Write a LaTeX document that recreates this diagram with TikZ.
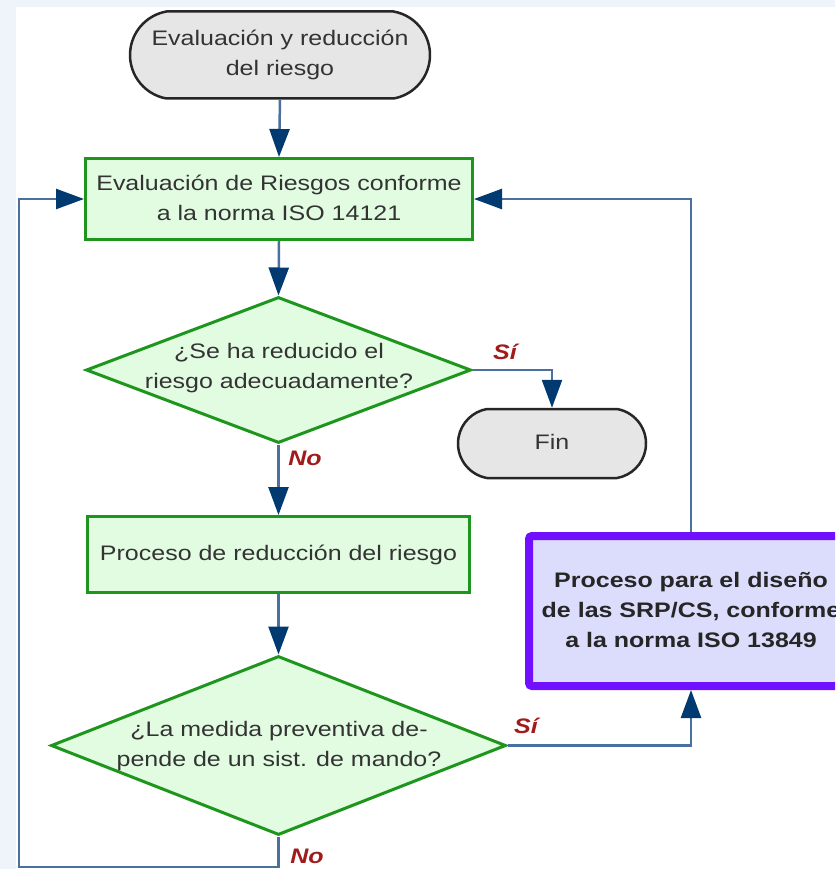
\documentclass[tikz,border=0pt]{standalone}
\usepackage{fontspec}
\usepackage{graphicx}
\setmainfont{Liberation Sans}
\usetikzlibrary{shapes.geometric,shapes.misc,arrows.meta}
\definecolor{bgblue}{HTML}{EEF4F9}
\definecolor{linecol}{HTML}{4A70A0}
\definecolor{tipcol}{HTML}{003A70}
\definecolor{greenfill}{HTML}{E2FCE2}
\definecolor{greenline}{HTML}{1E961E}
\definecolor{grayfill}{HTML}{E6E6E6}
\definecolor{purpleline}{HTML}{7010FF}
\definecolor{purplefill}{HTML}{DCDCFC}
\definecolor{labred}{HTML}{A01C1C}
\definecolor{txtcol}{HTML}{333333}
\newcommand\tx[1]{\scalebox{1.19}[1]{\begin{tabular}{@{}c@{}}#1\end{tabular}}}
\begin{document}
\begin{tikzpicture}[x=1pt,y=-1pt,
  every node/.style={font=\fontsize{21}{30}\selectfont, text=txtcol, inner sep=0pt},
  term/.style={rounded rectangle, rounded rectangle arc length=160, draw=black!85, line width=2.5pt, fill=grayfill},
  procbox/.style={rectangle, draw=greenline, line width=3pt, fill=greenfill},
  decision/.style={diamond, draw=greenline, line width=3pt, fill=greenfill},
  srpbox/.style={rectangle, rounded corners=3pt, draw=purpleline, line width=8pt, fill=purplefill},
  conn/.style={draw=linecol, line width=2.5pt, -{Triangle[length=28pt,width=20pt,color=tipcol]}},
  yesno/.style={font=\fontsize{21}{25}\selectfont\bfseries\itshape, text=labred}
]
\useasboundingbox (0,0) rectangle (835,869);
\clip (0,0) rectangle (835,869);
\fill[bgblue] (0,0) rectangle (835,869);
\fill[white] (16,7) rectangle (835,869);

% shapes
\node[term, minimum width=300pt, minimum height=87pt] (start) at (280,55) {};
\node (starttext) at (start.center) {\tx{Evaluación y reducción\\del riesgo}};

\node[procbox, minimum width=387pt, minimum height=81pt] (box1) at (279,199)
  {\tx{Evaluación de Riesgos conforme\\a la norma ISO 14121}};

\node[decision, minimum width=385pt, minimum height=146pt] (d1) at (278.5,370) {};
\node (d1text) at (279,367.5) {\tx{¿Se ha reducido el\\riesgo adecuadamente?}};

\node[term, minimum width=188pt, minimum height=69pt] (fin) at (552,443.5) {};
\node (fintext) at (fin.center) {\tx{Fin}};

\node[procbox, minimum width=382pt, minimum height=76pt] (box2) at (278.5,554.5)
  {\tx{Proceso de reducción del riesgo}};

\node[decision, minimum width=455pt, minimum height=179pt] (d2) at (278.5,745.5) {};
\node (d2text) at (279,745) {\tx{¿La medida preventiva de-\\pende de un sist. de mando?}};

\node[srpbox, minimum width=324pt, minimum height=150pt] (srp) at (691,611)
  {\color{black!85}\bfseries\tx{Proceso para el diseño\\de las SRP/CS, conforme\\a la norma ISO 13849}};

% connectors
\draw[conn] (start.south) -- (box1.north);
\draw[conn] (box1.south) -- (d1.north);
\draw[conn] (d1.east) -| (fin.north);
\draw[conn] (d1.south) -- (box2.north);
\draw[conn] (box2.south) -- (d2.north);
\draw[conn] (d2.east) -| (srp.south);
\draw[conn] (srp.north) |- (box1.east);
\coordinate (loopc) at (19,867);
\draw[conn] (d2.south) |- (loopc) |- (box1.west);

% labels
\node[yesno] (si1) at (505,352) {\scalebox{1.19}[1]{Sí}};
\node[yesno] (no1) at (305,458) {\scalebox{1.19}[1]{No}};
\node[yesno] (si2) at (526,726) {\scalebox{1.19}[1]{Sí}};
\node[yesno] (no2) at (307,856) {\scalebox{1.19}[1]{No}};
\end{tikzpicture}
\end{document}
